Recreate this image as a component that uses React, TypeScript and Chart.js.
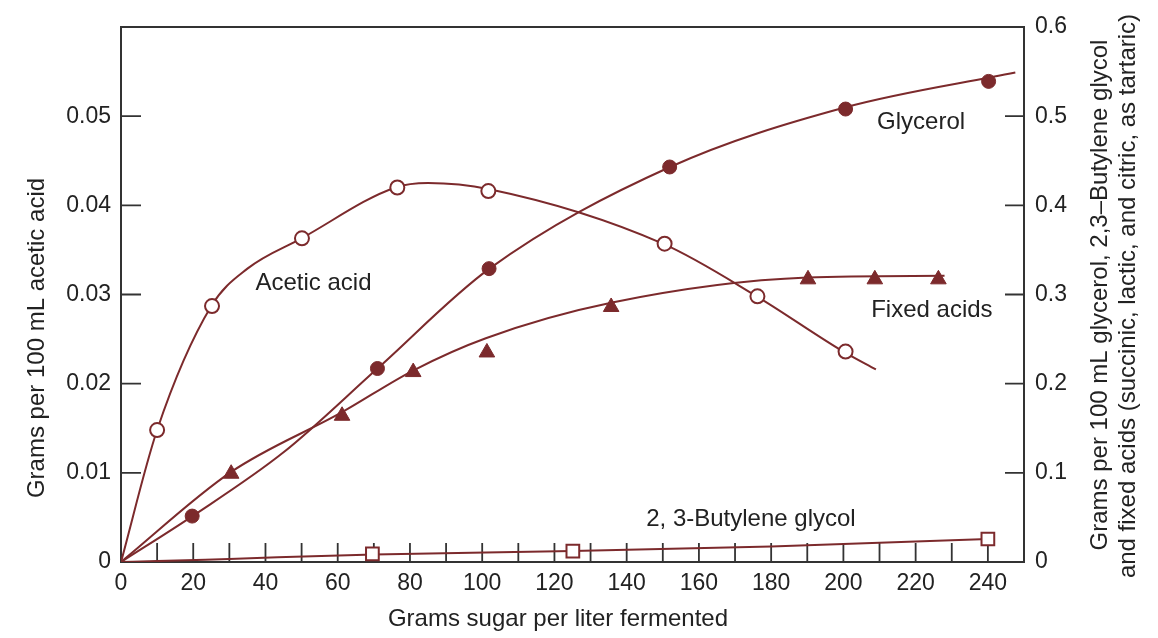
import React, { useEffect, useRef } from "react";
import { Chart, registerables } from "chart.js";

Chart.register(...registerables);

// ---- Data ----
// Acetic acid (left axis, g/100 mL) – measured points
const aceticX = [10, 25.2, 50.1, 76.5, 101.7, 150.5, 176.2, 200.6];
const aceticY = [0.0148, 0.0287, 0.0363, 0.042, 0.0416, 0.0357, 0.0298, 0.0236];
// Acetic acid fitted curve
const aceticCurveX = [0, 10, 25, 35, 50, 76, 85, 102, 150, 176, 200, 209];
const aceticCurveY = [0, 0.0148, 0.0287, 0.0329, 0.0363, 0.042, 0.0425, 0.0418, 0.0357, 0.0298, 0.0236, 0.0216];

// Glycerol (right axis) – measured points
const glycerolX = [19.7, 71, 101.9, 151.9, 200.6, 240.2];
const glycerolY = [0.0515, 0.217, 0.329, 0.443, 0.508, 0.539];
// Glycerol fitted curve
const glycerolCurveX = [0, 20, 45, 71, 102, 152, 200.6, 247.6];
const glycerolCurveY = [0, 0.052, 0.123, 0.217, 0.329, 0.443, 0.51, 0.549];

// Fixed acids (right axis) – measured points
const fixedX = [30.5, 61.2, 80.9, 101.3, 135.7, 190.2, 208.7, 226.3];
const fixedY = [0.099, 0.164, 0.213, 0.235, 0.286, 0.317, 0.317, 0.317];
// Fixed acids fitted curve
const fixedCurveX = [0, 30.5, 61.2, 81, 101, 136, 190, 228];
const fixedCurveY = [0, 0.101, 0.168, 0.215, 0.251, 0.291, 0.319, 0.321];

// 2,3-Butylene glycol (right axis) – measured points
const butyleneX = [69.6, 125.1, 240];
const butyleneY = [0.009, 0.0123, 0.0258];
// 2,3-Butylene glycol fitted curve
const butyleneCurveX = [0, 10, 30, 70, 125, 180, 240];
const butyleneCurveY = [0, 0.001, 0.0035, 0.0085, 0.0123, 0.0175, 0.0258];

// Curve labels (anchored in data units: x, right-axis y)
const labelTexts = ["Acetic acid", "Glycerol", "Fixed acids", "2, 3-Butylene glycol"];
const labelX = [53.3, 221.5, 224.5, 174.4];
const labelY = [0.3124, 0.4927, 0.2822, 0.0482];

// Axis ranges / ticks
const xMin = 0;
const xMax = 250;
const xStep = 10;
const xLabelStep = 20;
const xLabelMax = 240;
const leftMax = 0.06;
const leftStep = 0.01;
const rightMax = 0.6;
const rightStep = 0.1;

const xTitle = "Grams sugar per liter fermented";
const leftTitle = "Grams per 100 mL acetic acid";
const rightTitle1 = "Grams per 100 mL glycerol, 2,3\u2013Butylene glycol";
const rightTitle2 = "and fixed acids (succinic, lactic, and citric, as tartaric)";

const MAROON = "#7c2a2c";
const INK = "#222222";
const FONT = "'Liberation Sans', Arial, sans-serif";

const pts = (xs: number[], ys: number[]) => xs.map((x, i) => ({ x, y: ys[i] }));

const framePlugin = {
  id: "frameAndTicks",
  beforeDatasetsDraw(chart: any) {
    const { ctx, chartArea: a, scales } = chart;
    ctx.save();
    ctx.strokeStyle = "#333333";
    ctx.lineWidth = 2;
    ctx.strokeRect(a.left, a.top, a.right - a.left, a.bottom - a.top);
    ctx.lineWidth = 1.8;
    ctx.beginPath();
    for (const t of scales.x.ticks) {
      const v = t.value;
      if (v <= xMin + 1e-9 || v >= xMax - 1e-9) continue;
      const px = scales.x.getPixelForValue(v);
      ctx.moveTo(px, a.bottom);
      ctx.lineTo(px, a.bottom - 19);
    }
    for (const t of scales.y.ticks) {
      const v = t.value;
      if (v <= 1e-9 || v >= leftMax - 1e-9) continue;
      const py = scales.y.getPixelForValue(v);
      ctx.moveTo(a.left, py);
      ctx.lineTo(a.left + 20, py);
    }
    for (const t of scales.y2.ticks) {
      const v = t.value;
      if (v <= 1e-9 || v >= rightMax - 1e-9) continue;
      const py = scales.y2.getPixelForValue(v);
      ctx.moveTo(a.right + 1, py);
      ctx.lineTo(a.right - 19, py);
    }
    ctx.stroke();
    ctx.restore();
  },
  afterDraw(chart: any) {
    const { ctx, scales } = chart;
    ctx.save();
    ctx.fillStyle = INK;
    ctx.font = `24px ${FONT}`;
    ctx.textAlign = "center";
    ctx.textBaseline = "middle";
    labelTexts.forEach((txt, i) => {
      const px = scales.x.getPixelForValue(labelX[i]);
      const py = scales.y2.getPixelForValue(labelY[i]);
      ctx.fillText(txt, px, py);
    });
    ctx.fillText(xTitle, 558, 619);
    ctx.save();
    ctx.translate(37, 338);
    ctx.rotate(-Math.PI / 2);
    ctx.fillText(leftTitle, 0, 0);
    ctx.restore();
    ctx.save();
    ctx.translate(1100, 295);
    ctx.rotate(-Math.PI / 2);
    ctx.fillText(rightTitle1, 0, 0);
    ctx.restore();
    ctx.save();
    ctx.translate(1128, 296);
    ctx.rotate(-Math.PI / 2);
    ctx.fillText(rightTitle2, 0, 0);
    ctx.restore();
    ctx.restore();
  },
};

export default function App() {
  const ref = useRef<HTMLCanvasElement | null>(null);

  useEffect(() => {
    if (!ref.current) return;
    Chart.defaults.font.family = FONT;
    const curveCommon = {
      showLine: true,
      pointRadius: 0,
      borderColor: MAROON,
      borderWidth: 2,
      cubicInterpolationMode: "monotone" as const,
      fill: false,
      order: 1,
    };
    const markerCommon = {
      showLine: false,
      borderColor: MAROON,
      order: 0,
    };
    const chart = new Chart(ref.current, {
      type: "scatter",
      data: {
        datasets: [
          { ...markerCommon, label: "Acetic acid", data: pts(aceticX, aceticY), yAxisID: "y", pointStyle: "circle", pointRadius: 7, pointBackgroundColor: "#ffffff", pointBorderColor: MAROON, pointBorderWidth: 2 },
          { ...markerCommon, label: "Glycerol", data: pts(glycerolX, glycerolY), yAxisID: "y2", pointStyle: "circle", pointRadius: 7, pointBackgroundColor: MAROON, pointBorderColor: MAROON, pointBorderWidth: 1 },
          { ...markerCommon, label: "Fixed acids", data: pts(fixedX, fixedY), yAxisID: "y2", pointStyle: "triangle", pointRadius: 9, pointBackgroundColor: MAROON, pointBorderColor: MAROON, pointBorderWidth: 1 },
          { ...markerCommon, label: "2, 3-Butylene glycol", data: pts(butyleneX, butyleneY), yAxisID: "y2", pointStyle: "rect", pointRadius: 9, pointBackgroundColor: "#ffffff", pointBorderColor: MAROON, pointBorderWidth: 2 },
          { ...curveCommon, label: "Acetic acid curve", data: pts(aceticCurveX, aceticCurveY), yAxisID: "y" },
          { ...curveCommon, label: "Glycerol curve", data: pts(glycerolCurveX, glycerolCurveY), yAxisID: "y2" },
          { ...curveCommon, label: "Fixed acids curve", data: pts(fixedCurveX, fixedCurveY), yAxisID: "y2" },
          { ...curveCommon, label: "Butylene glycol curve", data: pts(butyleneCurveX, butyleneCurveY), yAxisID: "y2" },
        ],
      },
      options: {
        animation: false,
        responsive: false,
        maintainAspectRatio: false,
        events: [],
        layout: { padding: { top: 27, left: 0, right: 0, bottom: 0 } },
        plugins: { legend: { display: false }, tooltip: { enabled: false }, title: { display: false } },
        scales: {
          x: {
            type: "linear",
            position: "bottom",
            min: xMin,
            max: xMax,
            grid: { display: false, drawTicks: false },
            border: { display: false },
            ticks: {
              stepSize: xStep,
              autoSkip: false,
              maxRotation: 0,
              minRotation: 0,
              padding: 8,
              color: INK,
              font: { size: 23, family: FONT },
              callback: (v: any) => {
                const n = Math.round(Number(v));
                return n % xLabelStep === 0 && n <= xLabelMax ? String(n) : "";
              },
            },
            afterFit: (s: any) => { s.height = 76; },
          },
          y: {
            type: "linear",
            position: "left",
            min: 0,
            max: leftMax,
            grid: { display: false, drawTicks: false },
            border: { display: false },
            ticks: {
              stepSize: leftStep,
              padding: 10,
              color: INK,
              font: { size: 23, family: FONT },
              callback: (v: any) => {
                const n = Number(v);
                if (Math.abs(n) < 1e-9) return "0";
                if (n > leftMax - 1e-6) return "";
                return n.toFixed(2);
              },
            },
            afterFit: (s: any) => { s.width = 121; },
          },
          y2: {
            type: "linear",
            position: "right",
            min: 0,
            max: rightMax,
            grid: { display: false, drawTicks: false },
            border: { display: false },
            ticks: {
              stepSize: rightStep,
              padding: 11,
              color: INK,
              font: { size: 23, family: FONT },
              callback: (v: any) => {
                const n = Number(v);
                if (Math.abs(n) < 1e-9) return "0";
                return n.toFixed(1);
              },
            },
            afterFit: (s: any) => { s.width = 134; },
          },
        },
      },
      plugins: [framePlugin],
    });
    return () => chart.destroy();
  }, []);

  return (
    <div style={{ position: "absolute", left: 0, top: 0, width: 1158, height: 638, background: "#ffffff" }}>
      <canvas ref={ref} width={1158} height={638} style={{ display: "block" }} />
    </div>
  );
}
